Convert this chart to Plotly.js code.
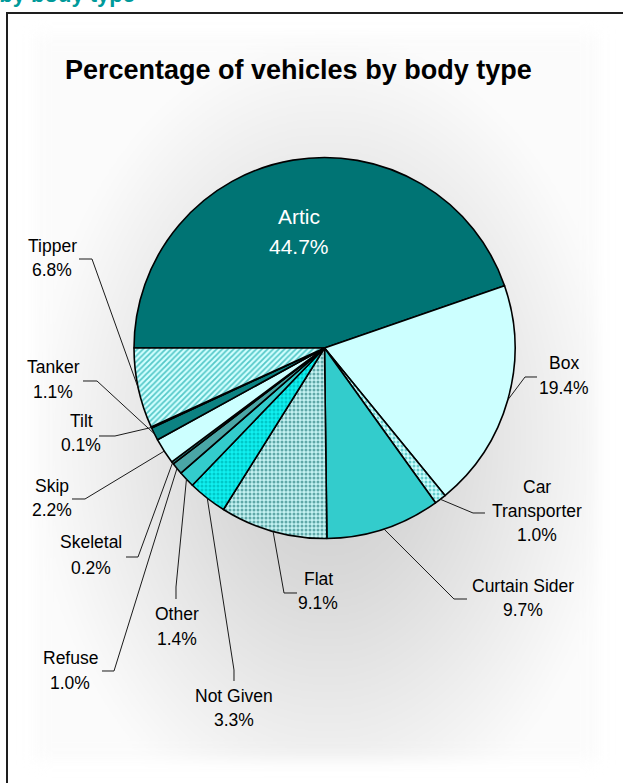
<!DOCTYPE html>
<html>
<head>
<meta charset="utf-8">
<script src="https://cdn.plot.ly/plotly-3.0.1.min.js"></script>
<style>
  html, body { margin:0; padding:0; width:623px; height:783px; overflow:hidden; background:#ffffff; }
  #frame { position:absolute; left:6px; top:12px; width:700px; height:900px;
           border-left:2px solid #1e1e1e; border-top:2px solid #1e1e1e; background:#ffffff; }
  #glow { position:absolute; left:34px; top:34px; width:564px; height:726px;
          background: radial-gradient(ellipse farthest-side at 52% 56%, #cbcbcb 0%, #d9d9d9 35%, #e9e9e9 65%, #f6f6f6 90%, #fbfbfb 100%);
          filter: blur(8px); }
  #heading { position:absolute; right:488px; top:-18px; white-space:nowrap;
             font: bold 22px "Liberation Sans", Arial, sans-serif; color:#009a9a; }
  #chart { position:absolute; left:0; top:0; width:623px; height:783px; }
</style>
</head>
<body>
<div id="frame"></div>
<div id="glow"></div>
<div id="heading">Vehicles by body type</div>
<div id="chart"></div>
<script>
// ---- data ----
const categories = ['Artic','Box','Car Transporter','Curtain Sider','Flat','Not Given','Other','Refuse','Skeletal','Skip','Tanker','Tilt','Tipper'];
const values = [44.7, 19.4, 1.0, 9.7, 9.1, 3.3, 1.4, 1.0, 0.2, 2.2, 1.1, 0.1, 6.8];
const chartTitle = 'Percentage of vehicles by body type';

// ---- styles ----
const colors = ['#007474','#CCFFFF','#A6EDED','#33CCCC','#A0D4D4','#0FE3E3','#33CCCC','#4AA6A6','#2E8A8A','#CCFFFF','#0C8282','#00FFFF','#B4F2F2'];
const patShape = ['','','.','','.','.','','','','','','','/'];
const patFg = ['','','#66CCCC','','#5FA8A8','#00C8C8','','','','','','','#55C8C8'];
const patBg = ['','','#CCFFFF','','#C4F2F2','#10F0F0','','','','','','','#D2FFFF'];

const W = 623, H = 783;
const CX = 324.5, CY = 348, R = 190.5;

// label layout in pixels (center of first line, line gap, leader path elbows from slice edge)
const labelLayout = {
  'Artic':           {x:299, y:216, gap:30, inside:true},
  'Box':             {x:564, y:363, gap:25, path:[[525,377],[537,377]]},
  'Car Transporter': {x:537, y:487, gap:24, wrap:true, path:[[473,513],[485,513]]},
  'Curtain Sider':   {x:523, y:586, gap:24, path:[[454,599],[467,599]]},
  'Flat':            {x:318, y:579, gap:24, path:[[284,593],[297,593]]},
  'Not Given':       {x:234, y:696, gap:24, path:[[234,670],[234,681]]},
  'Other':           {x:177, y:614, gap:25, path:[[176,587],[176,599]]},
  'Refuse':          {x:70,  y:658, gap:25, path:[[114,671],[102,671]]},
  'Skeletal':        {x:91,  y:542, gap:26, path:[[138,557],[126,557]]},
  'Skip':            {x:52,  y:486, gap:24, path:[[85,499],[72,499]]},
  'Tilt':            {x:81,  y:421, gap:24, path:[[115,436],[99,436]]},
  'Tanker':          {x:53,  y:367, gap:25, path:[[97,381],[83,381]]},
  'Tipper':          {x:52,  y:246, gap:24, path:[[92,259],[79,259]]}
};

const px = x => x / W;
const py = y => 1 - y / H;
const FONT = '"Liberation Sans", Arial, sans-serif';

const total = values.reduce((a,b)=>a+b,0);
const annotations = [];
const shapes = [];
let cum = 0;
categories.forEach((cat, i) => {
  const mid = cum + values[i] / 2;
  cum += values[i];
  const t = 2 * Math.PI * mid / total;           // clockwise from 9 o'clock
  const ex = CX - R * Math.cos(t), ey = CY - R * Math.sin(t);
  const L = labelLayout[cat];
  const nameLines = L.wrap ? cat.split(' ') : [cat];
  const lines = nameLines.concat([values[i].toFixed(1) + '%']);
  lines.forEach((txt, k) => {
    annotations.push({
      xref:'paper', yref:'paper', x: px(L.x), y: py(L.y + k * L.gap),
      xanchor:'center', yanchor:'middle', showarrow:false, text: txt,
      font: {family: FONT, size: L.inside ? 21 : 17.5, color: L.inside ? '#ffffff' : '#000000'}
    });
  });
  if (L.path) {
    const pts = [[ex, ey]].concat(L.path);
    const d = pts.map((p, k) => (k ? 'L' : 'M') + px(p[0]).toFixed(5) + ',' + py(p[1]).toFixed(5)).join(' ');
    shapes.push({type:'path', xref:'paper', yref:'paper', path:d, line:{color:'#1a1a1a', width:1}});
  }
});

annotations.push({
  xref:'paper', yref:'paper', x: px(298), y: py(70), xanchor:'center', yanchor:'middle',
  showarrow:false, text:'<b>' + chartTitle + '</b>',
  font:{family: FONT, size: 27, color:'#000000'}
});

const trace = {
  type:'pie', labels: categories, values: values, sort:false, direction:'clockwise',
  rotation:-90, textinfo:'none', hoverinfo:'label+percent',
  domain:{x:[px(CX-R), px(CX+R)], y:[py(CY+R), py(CY-R)]},
  marker:{colors: colors, line:{color:'#000000', width:1.6},
          pattern:{shape: patShape, fgcolor: patFg, bgcolor: patBg, size: 4, solidity: 0.45, fillmode:'replace'}},
  showlegend:false
};

Plotly.newPlot('chart', [trace], {
  width: W, height: H, margin:{l:0, r:0, t:0, b:0},
  paper_bgcolor:'rgba(0,0,0,0)', plot_bgcolor:'rgba(0,0,0,0)',
  showlegend:false, annotations: annotations, shapes: shapes
}, {displayModeBar:false, staticPlot:true});
</script>
</body>
</html>
